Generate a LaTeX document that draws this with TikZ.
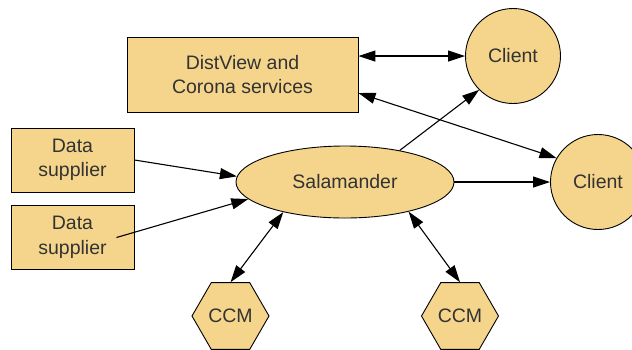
\documentclass[tikz,border=0pt]{standalone}
\usepackage{fontspec}
\setmainfont{Liberation Sans}
\usepackage{tikz}
\usetikzlibrary{arrows.meta,shapes.geometric,positioning}
\definecolor{Sand}{HTML}{F5D58B}
\definecolor{Ink}{HTML}{333333}

\begin{document}
\begin{tikzpicture}[
  x=1pt,y=-1pt,
  part/.style={draw=black,line width=0.9pt,fill=Sand,text=Ink,align=center,
    font=\fontsize{19.5}{24.5}\selectfont,inner sep=0pt},
  rect/.style={part,rectangle,minimum width=123pt,minimum height=64pt},
  client/.style={part,circle,minimum size=95pt},
  ccm/.style={part,regular polygon,regular polygon sides=6,minimum size=77pt},
  arr/.style={-{Triangle[length=17pt,width=11pt]},line width=1.1pt,draw=black},
  darr/.style={arr,{Triangle[length=17pt,width=11pt]}-{Triangle[length=17pt,width=11pt]}}
]
\useasboundingbox (0,0) rectangle (632,349);
\clip (0,0) rectangle (632,349);

\node[rect,minimum width=231pt,minimum height=75pt] (dist) at (242.5,74.5) {DistView and\\Corona services};
\node[client] (c1) at (513,56) {Client};
\node[client] (c2) at (598,182) {Client};
\node[rect] (sup1) at (72.5,160) {Data\\supplier};
\node[rect] (sup2) at (72.5,237.5) {Data\\supplier};
\node[part,ellipse,minimum width=218pt,minimum height=72pt] (sal) at (345,182) {Salamander};
\node[ccm] (ccm1) at (230.5,316) {CCM};
\node[ccm] (ccm2) at (460,316) {CCM};

\coordinate (sup2out) at ([xshift=44pt]sup2.center);

\draw[darr] (dist.east |- c1.west) -- (c1.west);
\draw[darr] ([yshift=-18.5pt]dist.east) -- (c2.150);
\draw[arr] (sal.30) -- (c1.225);
\draw[arr] (sal.east) -- (c2.west);
\draw[arr] (sup1.east) -- (sal.177);
\draw[arr] (sup2out) -- (sal.190);
\draw[darr] (ccm1.north) -- (sal.206);
\draw[darr] (ccm2.north) -- (sal.335);
\end{tikzpicture}
\end{document}
